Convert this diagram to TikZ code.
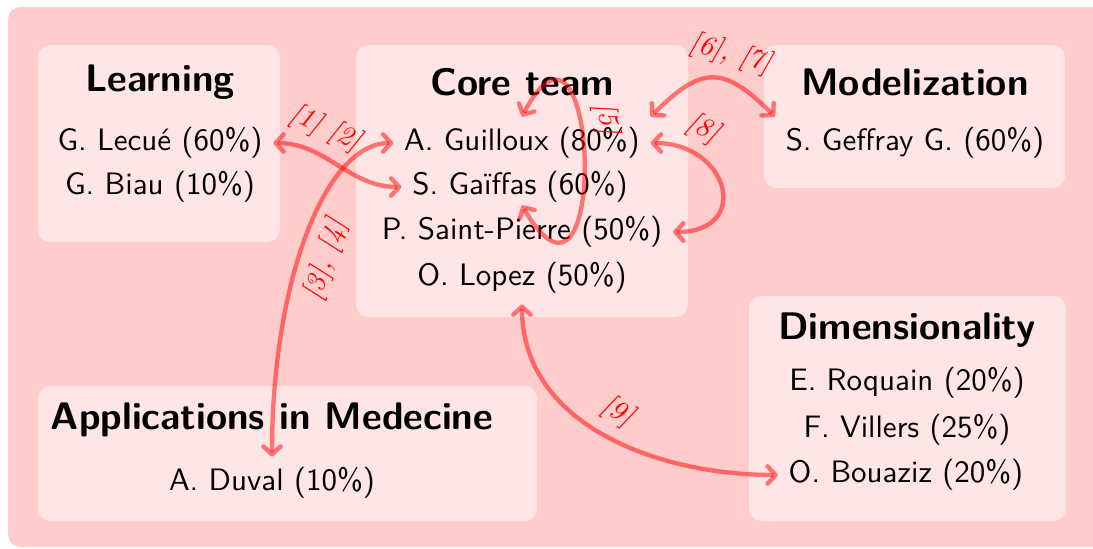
\documentclass[tikz,border=0pt]{standalone}
\usepackage{amsmath}
\usepackage{tikz}
\usetikzlibrary{arrows.meta}
\usetikzlibrary{calc}
\usepackage{xcolor}

\begin{document}
\begin{tikzpicture}[x=0.3226pt, y=0.3226pt, font=\sffamily,
        title/.style={font=\sffamily\bfseries\fontsize{12.4}{15}\selectfont},
        block/.style={fill=red!10, rounded corners=4pt},
        link/.style={<->, >={Straight Barb[round, length=2.6pt, width=5.6pt]}, draw=red, draw opacity=0.5, line width=1.4pt},
        cite/.style={red, font=\rmfamily\itshape\small, sloped}]
    \useasboundingbox (0,0) rectangle (1093,548);
    \fill[red!20, rounded corners=4pt] (8,1) rectangle (1130,541);
    % blocks
    \fill[block] (38,306) rectangle (280,503);
    \fill[block] (356,231) rectangle (688,503);
    \fill[block] (764,360) rectangle (1065,503);
    \fill[block] (38,27) rectangle (537,162);
    \fill[block] (749,27) rectangle (1066,252);
    % Learning
    \node[title] (learning) at (160,466) {Learning};
    \node (lecue) at (160,405) {G. Lecué (60\%)};
    \node (biau) at (160,361) {G. Biau (10\%)};
    % Core team
    \node[title] (core) at (522,466) {Core team};
    \node (guilloux) at (522,405) {A. Guilloux (80\%)};
    \node (gaiffas) at (520,361) {S. Gaïffas (60\%)};
    \node (saint) at (522,316) {P. Saint-Pierre (50\%)};
    \node (lopez) at (522,270) {O. Lopez (50\%)};
    % Modelization
    \node[title] (model) at (915,466) {Modelization};
    \node (geffray) at (915,405) {S. Geffray G. (60\%)};
    % Applications
    \node[title] (appli) at (272,128) {Applications in Medecine};
    \node (duval) at (272,65) {A. Duval (10\%)};
    % Dimensionality
    \node[title] (dim) at (907,218) {Dimensionality};
    \node (roquain) at (907,165) {E. Roquain (20\%)};
    \node (villers) at (907,118) {F. Villers (25\%)};
    \node (bouaziz) at (906,73) {O. Bouaziz (20\%)};
    % links
    \draw[link] (lecue.east) to[out=0, in=180] node[cite, above, pos=0.3] {[1] [2]} (gaiffas.west);
    \draw[link] (guilloux.west) .. controls +(-68,0) and +(0,175) .. node[cite, below, pos=0.55] {[3], [4]} (duval.north);
    \draw[link] (saint.north) .. controls +(88,-150) and +(78,149) .. node[cite, above, pos=0.61] {[5]} (guilloux.north);
    \draw[link] (guilloux.north east) to[out=45, in=135, looseness=1.5] node[cite, above, pos=0.6] {[6], [7]} (geffray.north west);
    \draw[link] (guilloux.east) to[out=0, in=0, looseness=2.2] node[cite, above, pos=0.2] {[8]} (saint.east);
    \draw[link] (lopez.south) to[out=-90, in=180] node[cite, above, pos=0.5] {[9]} (bouaziz.west);
\end{tikzpicture}
\end{document}
